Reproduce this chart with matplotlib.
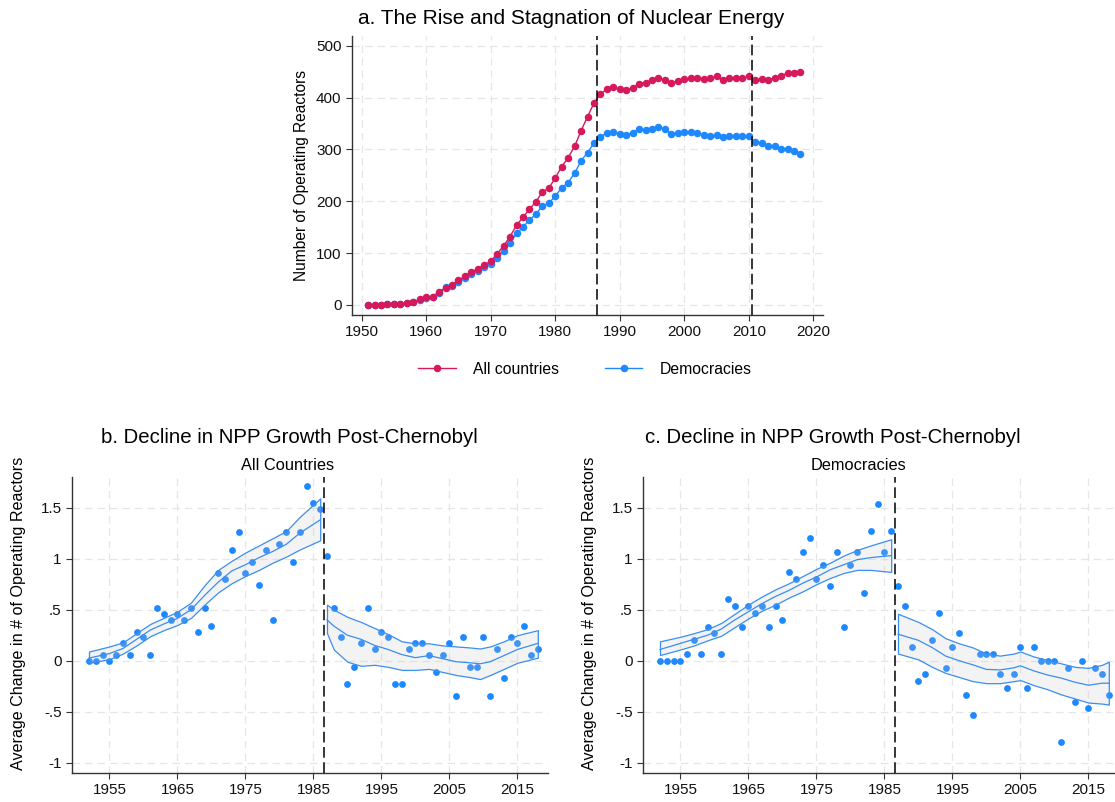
import numpy as np
import matplotlib
matplotlib.use("Agg")
import matplotlib.pyplot as plt

plt.rcParams['font.family'] = ['Liberation Sans', 'DejaVu Sans']

# ---------------- Panel a data ----------------
years_a = list(range(1951, 2019))
all_countries = [0, 0, 0, 1, 1, 2, 4.5, 5, 11, 15, 16, 25, 33, 39, 48, 55, 64, 69, 78, 84,
                 99, 114, 132, 154, 169, 185, 199, 218, 225, 245, 267, 284, 306, 336, 363, 389,
                 407, 416, 420, 416, 415, 418, 427, 429, 434, 438, 434, 429, 432, 435,
                 438, 438, 436, 437, 441, 434, 438, 438, 437, 441, 434, 436, 434, 438,
                 442, 447, 447, 449]
democracies = [0, 0, 0, 1, 1, 2, 4, 5, 10, 14, 16, 24, 34, 37, 45, 52, 60, 65, 73, 80,
               91, 104, 120, 138, 150, 164, 175, 191, 196, 210, 226, 236, 254, 278, 294, 312,
               324, 332, 334, 330, 328, 332, 339, 337, 339, 344, 339, 330, 332, 333,
               334, 332, 328, 326, 328, 324, 326, 326, 326, 326, 314, 312, 307, 307,
               300, 300, 297, 291]
event_lines_a = [1986.5, 2010.5]

# ---------------- Panel b data (All countries) ----------------
years_b = list(range(1952, 2019))
change_all = [0, 0, 0.057, 0, 0.057, 0.171, 0.057, 0.286, 0.229, 0.057,
              0.514, 0.457, 0.4, 0.457, 0.4, 0.514, 0.286, 0.514, 0.343, 0.857,
              0.8, 1.086, 1.257, 0.857, 0.971, 0.743, 1.086, 0.4, 1.143, 1.257,
              0.971, 1.257, 1.714, 1.543, 1.486,
              1.029, 0.514, 0.229, -0.229, -0.057, 0.171, 0.514, 0.114, 0.286, 0.229,
              -0.229, -0.229, 0.114, 0.171, 0.171, 0.057, -0.114, 0.057, 0.171, -0.343,
              0.229, -0.057, -0.057, 0.229, -0.343, 0.114, -0.171, 0.229, 0.171, 0.343,
              0.057, 0.114]

b_pre_x = [1952, 1955, 1957, 1959, 1961, 1963, 1965, 1967, 1969, 1971, 1973, 1975, 1977, 1979, 1981, 1983, 1986]
b_pre_mid = [0.026, 0.07, 0.12, 0.21, 0.30, 0.36, 0.415, 0.50, 0.64, 0.77, 0.88, 0.94, 1.01, 1.07, 1.14, 1.25, 1.38]
b_pre_lo = [-0.02, 0.016, 0.07, 0.15, 0.24, 0.30, 0.35, 0.42, 0.55, 0.67, 0.76, 0.83, 0.89, 0.96, 1.02, 1.09, 1.18]
b_pre_hi = [0.09, 0.14, 0.18, 0.27, 0.36, 0.42, 0.48, 0.57, 0.74, 0.89, 0.98, 1.06, 1.13, 1.20, 1.27, 1.41, 1.59]

b_post_x = [1987, 1988, 1990, 1992, 1994, 1996, 1998, 2000, 2002, 2004, 2006, 2008, 2009.5, 2011, 2013, 2015, 2018]
b_post_mid = [0.40, 0.34, 0.25, 0.21, 0.15, 0.11, 0.06, 0.03, 0.05, 0.02, -0.01, -0.02, -0.03, -0.01, 0.05, 0.11, 0.17]
b_post_lo = [0.27, 0.11, -0.01, -0.05, -0.04, -0.06, -0.09, -0.09, -0.08, -0.11, -0.14, -0.16, -0.18, -0.14, -0.08, -0.02, 0.03]
b_post_hi = [0.55, 0.50, 0.43, 0.38, 0.32, 0.26, 0.19, 0.17, 0.17, 0.15, 0.14, 0.13, 0.12, 0.14, 0.19, 0.25, 0.30]

# ---------------- Panel c data (Democracies) ----------------
years_c = list(range(1952, 2019))
change_dem = [0, 0, 0, 0, 0.067, 0.2, 0.067, 0.333, 0.267, 0.067,
              0.6, 0.533, 0.333, 0.533, 0.467, 0.533, 0.333, 0.533, 0.4, 0.867,
              0.8, 1.067, 1.2, 0.8, 0.933, 0.733, 1.067, 0.333, 0.933, 1.067,
              0.667, 1.267, 1.533, 1.067, 1.267,
              0.733, 0.533, 0.133, -0.2, -0.133, 0.2, 0.467, -0.067, 0.133, 0.267,
              -0.333, -0.533, 0.067, 0.067, 0.067, -0.133, -0.267, -0.133, 0.133, -0.267,
              0.133, 0, 0, 0, -0.8, -0.067, -0.4, 0, -0.467, -0.067,
              -0.133, -0.333]

c_pre_x = [1952, 1955, 1957, 1959, 1961, 1963, 1965, 1967, 1969, 1971, 1973, 1975, 1977, 1979, 1981, 1983, 1986]
c_pre_mid = [0.11, 0.17, 0.21, 0.25, 0.31, 0.40, 0.48, 0.56, 0.63, 0.69, 0.76, 0.82, 0.89, 0.94, 0.99, 1.01, 1.03]
c_pre_lo = [0.056, 0.11, 0.15, 0.20, 0.245, 0.33, 0.415, 0.49, 0.55, 0.62, 0.68, 0.75, 0.81, 0.86, 0.89, 0.89, 0.87]
c_pre_hi = [0.19, 0.235, 0.27, 0.31, 0.37, 0.46, 0.55, 0.63, 0.70, 0.76, 0.83, 0.90, 0.96, 1.03, 1.085, 1.13, 1.19]

c_post_x = [1987, 1990, 1992, 1994, 1996, 1998, 2000, 2002, 2004, 2005, 2007, 2009, 2011, 2013, 2015, 2017, 2018]
c_post_mid = [0.26, 0.20, 0.13, 0.046, 0.0, -0.04, -0.085, -0.09, -0.07, -0.05, -0.10, -0.14, -0.17, -0.21, -0.24, -0.22, -0.22]
c_post_lo = [0.07, 0.013, -0.06, -0.12, -0.16, -0.20, -0.22, -0.22, -0.20, -0.19, -0.24, -0.28, -0.33, -0.37, -0.41, -0.42, -0.43]
c_post_hi = [0.46, 0.38, 0.31, 0.22, 0.17, 0.13, 0.07, 0.05, 0.07, 0.09, 0.04, 0.007, -0.026, -0.06, -0.07, -0.04, -0.01]

event_line_bc = 1986.5

xticks_a = [1950, 1960, 1970, 1980, 1990, 2000, 2010, 2020]
yticks_a = [0, 100, 200, 300, 400, 500]
xticks_bc = [1955, 1965, 1975, 1985, 1995, 2005, 2015]
yticks_bc = [-1, -0.5, 0, 0.5, 1, 1.5]
yticklabels_bc = ['-1', '-.5', '0', '.5', '1', '1.5']

RED = '#D6185C'
BLUE = '#1E88FF'
BAND_EDGE = '#3A8EF0'
GRID = '#E6E6E6'
SPINE = '#333333'

W, H = 1115, 802
fig = plt.figure(figsize=(W / 100, H / 100), dpi=100)


def px_axes(l, t, r, b):
    return fig.add_axes([l / W, 1 - b / H, (r - l) / W, (b - t) / H])


def style(ax, tick_size):
    for s in ['top', 'right']:
        ax.spines[s].set_visible(False)
    for s in ['left', 'bottom']:
        ax.spines[s].set_color(SPINE)
        ax.spines[s].set_linewidth(1.0)
    ax.tick_params(axis='both', direction='out', length=4, width=0.8, color=SPINE,
                   labelsize=tick_size, labelcolor='#111111')
    ax.grid(True, color=GRID, linewidth=0.9, linestyle=(0, (6, 4)))
    ax.set_axisbelow(True)


# ---------------- Panel a ----------------
axa = px_axes(352, 36, 823, 315)
style(axa, 11)
axa.plot(years_a, democracies, color=BLUE, lw=1.0, marker='o', ms=4.4, mec=BLUE, mfc=BLUE,
         label='Democracies', zorder=3)
axa.plot(years_a, all_countries, color=RED, lw=1.0, marker='o', ms=4.4, mec=RED, mfc=RED,
         label='All countries', zorder=4)
for xv in event_lines_a:
    axa.axvline(xv, color='black', lw=1.1, linestyle=(0, (7, 3)), zorder=5)
axa.set_xlim(1948.5, 2021.5)
axa.set_ylim(-19.3, 518.7)
axa.set_xticks(xticks_a)
axa.set_yticks(yticks_a)
axa.set_ylabel('Number of Operating Reactors', fontsize=11.2, labelpad=5)
fig.text(571 / W, 1 - 18 / H, 'a. The Rise and Stagnation of Nuclear Energy',
         ha='center', va='center', fontsize=15)
h, l = axa.get_legend_handles_labels()
leg = fig.legend([h[1], h[0]], [l[1], l[0]], loc='center', bbox_to_anchor=(585 / W, 1 - 369 / H),
                 ncol=2, frameon=False, fontsize=11.3, handlelength=2.4, handletextpad=1.1,
                 columnspacing=2.9)


# ---------------- Panels b, c ----------------
def panel(ax, years, vals, segs):
    style(ax, 11)
    ax.scatter(years, vals, s=24, color=BLUE, linewidths=0, zorder=2)
    for xs, mid, lo, hi in segs:
        ax.fill_between(xs, lo, hi, facecolor=(0.78, 0.78, 0.78, 0.2), edgecolor=BAND_EDGE,
                        linewidth=0.9, zorder=3)
        ax.plot(xs, mid, color=BAND_EDGE, lw=0.9, zorder=4)
    ax.axvline(event_line_bc, color='black', lw=1.1, linestyle=(0, (7, 3)), zorder=5)
    ax.set_xlim(1949.5, 2019.5)
    ax.set_ylim(-1.1, 1.8)
    ax.set_xticks(xticks_bc)
    ax.set_yticks(yticks_bc)
    ax.set_yticklabels(yticklabels_bc)
    ax.set_ylabel('Average Change in # of Operating Reactors', fontsize=11.6)
    ax.yaxis.set_label_coords(-0.097, 0.54)


axb = px_axes(72, 477, 548, 773)
panel(axb, years_b, change_all,
      [(b_pre_x, b_pre_mid, b_pre_lo, b_pre_hi), (b_post_x, b_post_mid, b_post_lo, b_post_hi)])
axc = px_axes(643, 477, 1119, 773)
panel(axc, years_c, change_dem,
      [(c_pre_x, c_pre_mid, c_pre_lo, c_pre_hi), (c_post_x, c_post_mid, c_post_lo, c_post_hi)])

fig.text(289 / W, 1 - 438 / H, 'b. Decline in NPP Growth Post-Chernobyl', ha='center', va='center', fontsize=14.7)
fig.text(288 / W, 1 - 466 / H, 'All Countries', ha='center', va='center', fontsize=11.8)
fig.text(833 / W, 1 - 438 / H, 'c. Decline in NPP Growth Post-Chernobyl', ha='center', va='center', fontsize=14.7)
fig.text(859 / W, 1 - 466 / H, 'Democracies', ha='center', va='center', fontsize=11.8)

fig.savefig('out.png', dpi=100, facecolor='white')
